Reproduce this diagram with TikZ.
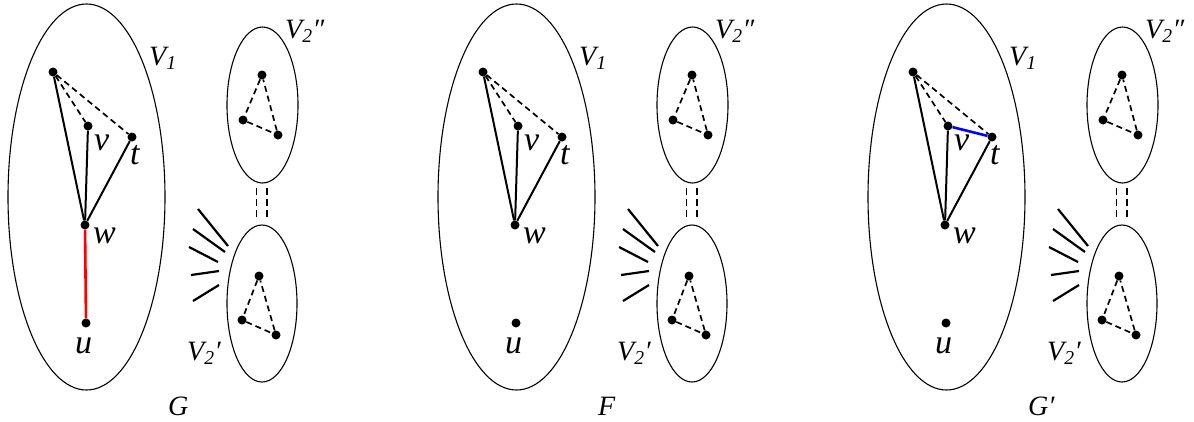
\documentclass[tikz,border=0pt]{standalone}
\usepackage{fontspec}
\setmainfont{Liberation Serif}
\newfontfamily\tnrfont{Liberation Serif}
\tikzset{
  dot/.style={circle,fill=black,inner sep=0pt,minimum size=9pt},
  setline/.style={line width=1.1pt},
  edgeline/.style={line width=2pt},
  dedge/.style={line width=1.7pt,dash pattern=on 6pt off 4pt},
  strokeline/.style={line width=2.2pt},
  lab/.style={anchor=base west,inner sep=0pt,font=\tnrfont\fontsize{34}{36}\selectfont\itshape},
  caplab/.style={anchor=base west,inner sep=0pt,font=\tnrfont\fontsize{28}{30}\selectfont\itshape},
}
\newcommand\drawpanel[3]{%
\begin{scope}[xshift=#2]
  % V1
  \draw[setline] (86.5,197) ellipse [x radius=78.5, y radius=193];
  \node[caplab] (Vone#1) at (149,65) {V\textsubscript{1}};
  \node[dot] (a#1) at (53,72) {};
  \node[dot] (v#1) at (88,126) {};
  \node[dot] (t#1) at (132,137) {};
  \node[dot] (w#1) at (85,225) {};
  \node[dot] (u#1) at (86,323) {};
  \node[lab] (lv#1) at (94,150) {v};
  \node[lab] (lt#1) at (130,164) {t};
  \node[lab] (lw#1) at (93,243) {w};
  \node[lab] (lu#1) at (75,353) {u};
  \draw[edgeline] (a#1) -- (w#1);
  \draw[edgeline] (v#1) -- (w#1);
  \draw[edgeline] (t#1) -- (w#1);
  \draw[dedge] (a#1) -- (v#1);
  \draw[dedge] (a#1) -- (t#1);
  % V2''
  \draw[setline] (262.5,105) ellipse [x radius=35.5, y radius=78];
  \node[caplab] (Vtt#1) at (285,38) {V\textsubscript{2}″};
  \node[dot] (p#1) at (262,75) {};
  \node[dot] (q#1) at (243,120) {};
  \node[dot] (r#1) at (278,135) {};
  \draw[dedge] (p#1) -- (q#1) -- (r#1) -- (p#1);
  % V2'
  \draw[setline] (262,303.5) ellipse [x radius=35, y radius=78.5];
  \node[caplab] (Vt#1) at (187,360) {V\textsubscript{2}′};
  \node[dot] (x#1) at (259,276) {};
  \node[dot] (y#1) at (242,320) {};
  \node[dot] (z#1) at (276,335) {};
  \draw[dedge] (x#1) -- (y#1) -- (z#1) -- (x#1);
  % double dashed link
  \draw[dedge,dash pattern=on 7pt off 4pt] (256.5,188) -- (256.5,219);
  \draw[dedge,dash pattern=on 7pt off 4pt] (267,188) -- (267,219);
  % fan strokes
  \draw[strokeline] (198,209) -- (228,246);
  \draw[strokeline] (193,229) -- (225,252);
  \draw[strokeline] (189,247) -- (218,262);
  \draw[strokeline] (191,275) -- (219,271);
  \draw[strokeline] (193,301) -- (219,285);
  % title
  \node[caplab] (title#1) at (168,415) {#3};
\end{scope}}
\begin{document}
\begin{tikzpicture}[x=1pt,y=-1pt]
  \useasboundingbox (0,0) rectangle (1194,421);
  \drawpanel{A}{0pt}{G}
  \draw[red,line width=2.6pt] (wA) -- (uA);
  \drawpanel{B}{430pt}{F}
  \drawpanel{C}{860pt}{G′}
  \draw[blue,line width=2.6pt] (vC) -- (tC);
\end{tikzpicture}
\end{document}
